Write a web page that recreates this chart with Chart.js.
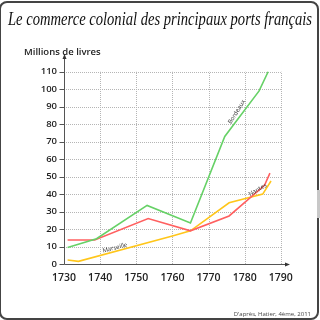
<!DOCTYPE html>
<html>
<head>
<meta charset="utf-8">
<script src="https://cdn.jsdelivr.net/npm/chart.js@4"></script>
<style>
    html, body { margin: 0; padding: 0; background: #fff; overflow: hidden; }
    #wrap { position: relative; width: 320px; height: 320px; }
    #frame { position: absolute; left: -1px; top: 1px; width: 316px; height: 315px; border: 2px solid #444; border-radius: 8px; }
    #tab { position: absolute; left: 317px; top: 190px; width: 4px; height: 28px; background: #c8c8c8; }
    canvas { position: absolute; left: 0; top: 0; }
</style>
</head>
<body>
<div id="wrap">
    <div id="frame"></div>
    <div id="tab"></div>
    <canvas id="portsChart" width="320" height="320"></canvas>
</div>
<script>
// Data (years, millions de livres)
const bordeauxYears = [1731, 1739, 1753, 1765, 1774.5, 1784, 1786.5];
const bordeauxValues = [9.5, 14.5, 33.5, 23.5, 73, 99, 110];
const nantesYears = [1731, 1738.5, 1753.3, 1765, 1775.7, 1785.5, 1787];
const nantesValues = [13.7, 13.7, 26, 19, 27.5, 45, 52];
const marseilleYears = [1731, 1734, 1760, 1765, 1775.7, 1785, 1787.3];
const marseilleValues = [2.3, 1.5, 16, 19, 35, 40, 47.5];

const xTicks = [1730, 1740, 1750, 1760, 1770, 1780, 1790];
const yTicks = [0, 10, 20, 30, 40, 50, 60, 70, 80, 90, 100, 110];

const titleText = 'Le commerce colonial des principaux ports français';
const yAxisTitle = 'Millions de livres';
const sourceText = "D'après, Hatier, 4ème, 2011";

// line labels: [text, year, value, angle in degrees]
const lineLabels = [
    ['Bordeaux', 1777.8, 87, -58],
    ['Nantes', 1783.6, 42.4, -30],
    ['Marseille', 1744.1, 9.2, -15]
];

function toPoints(xs, ys) {
    return xs.map((x, i) => ({ x: x, y: ys[i] }));
}

// grid, axes with arrows, texts
const decorPlugin = {
    id: 'decor',
    beforeDatasetsDraw(chart) {
        const { ctx, scales: { x, y } } = chart;
        const x0 = x.getPixelForValue(1730), x1 = x.getPixelForValue(1790);
        const y0 = y.getPixelForValue(0), y1 = y.getPixelForValue(110);
        ctx.save();
        ctx.strokeStyle = '#b5b5b5';
        ctx.lineWidth = 1;
        ctx.setLineDash([1, 1]);
        xTicks.slice(1).forEach(v => {
            const px = Math.round(x.getPixelForValue(v)) + 0.5;
            ctx.beginPath(); ctx.moveTo(px, y0); ctx.lineTo(px, y1); ctx.stroke();
        });
        yTicks.slice(1).forEach(v => {
            const py = Math.round(y.getPixelForValue(v)) + 0.5;
            ctx.beginPath(); ctx.moveTo(x0, py); ctx.lineTo(x1, py); ctx.stroke();
        });
        ctx.setLineDash([]);

        // axes
        const ax = Math.round(x0) + 0.5, ay = Math.round(y0) + 0.5;
        const top = chart.chartArea.top, right = chart.chartArea.right;
        ctx.strokeStyle = '#555';
        ctx.fillStyle = '#333';
        ctx.beginPath(); ctx.moveTo(ax, ay); ctx.lineTo(ax, top); ctx.stroke();
        ctx.beginPath(); ctx.moveTo(ax, ay); ctx.lineTo(right, ay); ctx.stroke();
        ctx.beginPath(); ctx.moveTo(ax, top - 2); ctx.lineTo(ax - 2, top + 3); ctx.lineTo(ax + 2, top + 3); ctx.fill();
        ctx.beginPath(); ctx.moveTo(right + 2, ay); ctx.lineTo(right - 3, ay - 2); ctx.lineTo(right - 3, ay + 2); ctx.fill();
        yTicks.forEach(v => {
            const py = Math.round(y.getPixelForValue(v)) + 0.5;
            ctx.beginPath(); ctx.moveTo(ax - 5, py); ctx.lineTo(ax, py); ctx.stroke();
        });
        ctx.restore();
    },
    afterDraw(chart) {
        const { ctx, scales: { x, y } } = chart;
        ctx.save();
        // title, squeezed to the reference width
        ctx.font = 'italic 19px "Liberation Serif"';
        ctx.fillStyle = '#111';
        ctx.textBaseline = 'alphabetic';
        const w = ctx.measureText(titleText).width;
        ctx.translate(8, 25);
        ctx.scale(304 / w, 1);
        ctx.fillText(titleText, 0, 0);
        ctx.restore();

        ctx.save();
        ctx.font = '600 9.5px "Open Sans"';
        ctx.fillStyle = '#222';
        ctx.textBaseline = 'alphabetic';
        ctx.fillText(yAxisTitle, 24, 55);

        ctx.font = '6px "Open Sans"';
        ctx.fillStyle = '#444';
        ctx.textAlign = 'right';
        ctx.fillText(sourceText, 311, 316);

        ctx.font = '6px "Open Sans"';
        ctx.fillStyle = '#333';
        ctx.textAlign = 'center';
        ctx.textBaseline = 'middle';
        lineLabels.forEach(([t, yr, v, ang]) => {
            ctx.save();
            ctx.translate(x.getPixelForValue(yr), y.getPixelForValue(v));
            ctx.rotate(ang * Math.PI / 180);
            ctx.fillText(t, 0, 0);
            ctx.restore();
        });
        ctx.restore();
    }
};

function initPortsChart() {
    const ctx = document.getElementById('portsChart');
    new Chart(ctx.getContext('2d'), {
        type: 'scatter',
        data: {
            datasets: [
                {
                    label: 'Bordeaux',
                    data: toPoints(bordeauxYears, bordeauxValues),
                    borderColor: '#66d166',
                    showLine: true,
                    borderWidth: 1.6,
                    pointRadius: 0
                },
                {
                    label: 'Nantes',
                    data: toPoints(nantesYears, nantesValues),
                    borderColor: '#ff6060',
                    showLine: true,
                    borderWidth: 1.6,
                    pointRadius: 0
                },
                {
                    label: 'Marseille',
                    data: toPoints(marseilleYears, marseilleValues),
                    borderColor: '#ffc61a',
                    showLine: true,
                    borderWidth: 1.6,
                    pointRadius: 0
                }
            ]
        },
        options: {
            responsive: false,
            animation: false,
            layout: { padding: { left: 24, top: 56, right: 32, bottom: 30 } },
            plugins: {
                legend: { display: false },
                tooltip: { enabled: false }
            },
            scales: {
                x: {
                    type: 'linear',
                    min: 1730,
                    max: 1792,
                    border: { display: false },
                    grid: { display: false, drawTicks: false },
                    afterBuildTicks: (s) => { s.ticks = xTicks.map(v => ({ value: v })); },
                    afterFit: (s) => { s.height = 26; },
                    ticks: {
                        padding: 8,
                        color: '#222',
                        font: { family: 'Open Sans', size: 10.5, weight: '600' },
                        maxRotation: 0,
                        callback: (v) => String(v)
                    }
                },
                y: {
                    min: 0,
                    max: 119,
                    border: { display: false },
                    grid: { display: false, drawTicks: false },
                    afterBuildTicks: (s) => { s.ticks = yTicks.map(v => ({ value: v })); },
                    afterFit: (s) => { s.width = 40; },
                    ticks: {
                        padding: 7,
                        color: '#222',
                        font: { family: 'Open Sans', size: 9.5, weight: '600' },
                        callback: (v) => String(v)
                    }
                }
            }
        },
        plugins: [decorPlugin]
    });
}

document.addEventListener('DOMContentLoaded', initPortsChart);
</script>
</body>
</html>
